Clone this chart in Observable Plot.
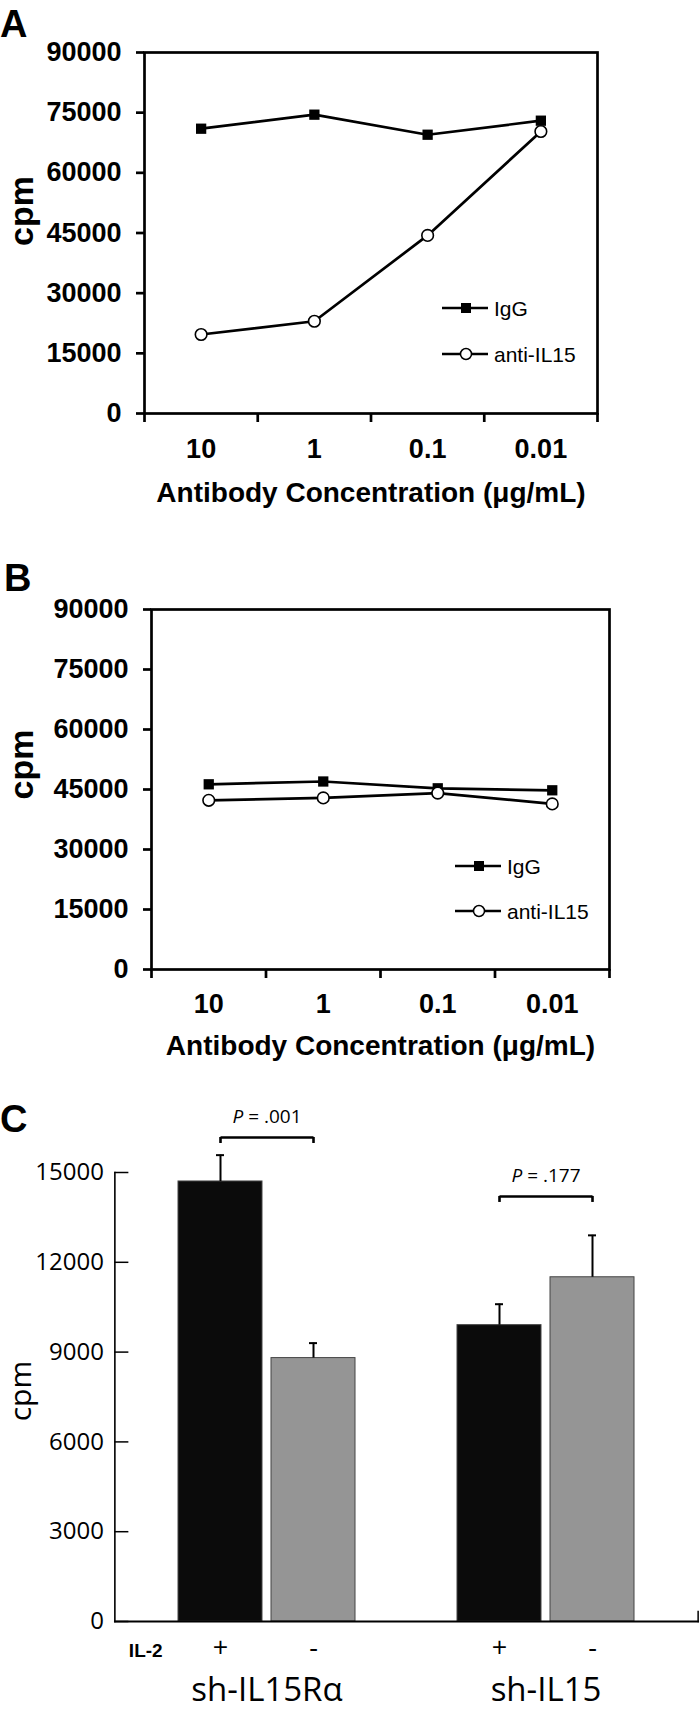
<!DOCTYPE html>
<html><head><meta charset="utf-8">
<script src="https://cdn.jsdelivr.net/npm/d3@7"></script>
<script src="https://cdn.jsdelivr.net/npm/@observablehq/plot@0.6"></script>
<style>
html,body{margin:0;padding:0;background:#fff;}
#page{position:relative;width:700px;height:1711px;overflow:hidden;background:#fff;font-family:'Liberation Sans',Arial,Helvetica,sans-serif;color:#000;}
.panel{position:absolute;left:0;}
.panel svg{display:block;overflow:visible;}
.letter{position:absolute;font-weight:bold;font-size:38px;line-height:1;color:#000;}
.leg{position:absolute;display:flex;align-items:center;height:20px;font-size:21px;line-height:1;color:#000;white-space:nowrap;}
.leg svg{display:block;margin-right:6px;}
</style></head><body><div id="page"></div>
<script>
// ---------- data ----------
const concentrations = ["10", "1", "0.1", "0.01"];
const seriesNames = ["IgG", "anti-IL15"];
const cpmTicksAB = [0, 15000, 30000, 45000, 60000, 75000, 90000];
const panelA_IgG = [71000, 74500, 69500, 73000];
const panelA_anti = [19700, 23000, 44400, 70300];
const panelB_IgG = [46300, 47000, 45300, 44800];
const panelB_anti = [42300, 42900, 44100, 41400];
const xTitle = "Antibody Concentration (μg/mL)";

const groupsC = ["sh-IL15Rα", "sh-IL15"];
const il2Levels = ["+", "-"];
const cpmMeansC = [14700, 8800, 9900, 11500];
const cpmErrorsC = [880, 500, 700, 1400];
const cpmTicksC = [0, 3000, 6000, 9000, 12000, 15000];
const pValuesC = [".001", ".177"];
const bracketCpmC = [16170, 14200];

// ---------- helpers ----------
const page = document.getElementById("page");
function place(node, top) {
  const d = document.createElement("div");
  d.className = "panel"; d.style.top = top + "px";
  d.appendChild(node); page.appendChild(d);
}
function letter(txt, left, top) {
  const d = document.createElement("div");
  d.className = "letter"; d.textContent = txt;
  d.style.left = left + "px"; d.style.top = top + "px";
  page.appendChild(d);
}
function legendRow(name, left, cy) {
  const d = document.createElement("div");
  d.className = "leg"; d.style.left = left + "px"; d.style.top = (cy - 10) + "px";
  const ns = "http://www.w3.org/2000/svg";
  const s = document.createElementNS(ns, "svg");
  s.setAttribute("width", 46); s.setAttribute("height", 20);
  const l = document.createElementNS(ns, "line");
  l.setAttribute("x1", 0); l.setAttribute("x2", 46); l.setAttribute("y1", 10); l.setAttribute("y2", 10);
  l.setAttribute("stroke", "#000"); l.setAttribute("stroke-width", 2.6);
  s.appendChild(l);
  if (name === seriesNames[0]) {
    const r = document.createElementNS(ns, "rect");
    r.setAttribute("x", 19); r.setAttribute("y", 5); r.setAttribute("width", 10); r.setAttribute("height", 10);
    r.setAttribute("fill", "#000"); s.appendChild(r);
  } else {
    const c = document.createElementNS(ns, "circle");
    c.setAttribute("cx", 24); c.setAttribute("cy", 10); c.setAttribute("r", 5.5);
    c.setAttribute("fill", "#fff"); c.setAttribute("stroke", "#000"); c.setAttribute("stroke-width", 1.5);
    s.appendChild(c);
  }
  d.appendChild(s);
  const t = document.createElement("span"); t.textContent = name; d.appendChild(t);
  page.appendChild(d);
}

function lineRows(igg, anti) {
  return concentrations.flatMap((conc, i) => [
    {conc, slot: i + 0.5, series: seriesNames[0], cpm: igg[i]},
    {conc, slot: i + 0.5, series: seriesNames[1], cpm: anti[i]}
  ]);
}

function linePanel(rows, m) {
  const n = concentrations.length;
  return Plot.plot({
    width: 700, height: m.height,
    marginTop: m.top, marginBottom: m.bottom, marginLeft: m.left, marginRight: m.right,
    style: {fontFamily: "'Liberation Sans', Arial, Helvetica, sans-serif", fontSize: "27px", fontWeight: "bold", color: "#000", background: "#fff", overflow: "visible"},
    x: {type: "linear", domain: [0, n], axis: null},
    y: {domain: [0, 90000], axis: null},
    marks: [
      Plot.frame({stroke: "#000", strokeWidth: 2.7}),
      Plot.axisY({ticks: cpmTicksAB, tickSize: 8, tickPadding: 15, strokeWidth: 2.7, tickFormat: d3.format("d"), fontSize: 27, fontWeight: "bold", label: null}),
      Plot.axisX({ticks: d3.range(n + 1), tickSize: 9, strokeWidth: 2.7, tickFormat: () => "", label: null}),
      Plot.axisX({ticks: concentrations.map((c, i) => i + 0.5), tickSize: 0, tickPadding: m.tickPad, tickFormat: v => concentrations[Math.floor(v)], fontSize: 27, fontWeight: "bold", label: null}),
      Plot.line(rows, {x: "slot", y: "cpm", z: "series", stroke: "#000", strokeWidth: 2.7}),
      Plot.dot(rows.filter(d => d.series === seriesNames[0]), {x: "slot", y: "cpm", symbol: "square", r: 5.8, fill: "#000", stroke: "none"}),
      Plot.dot(rows.filter(d => d.series === seriesNames[1]), {x: "slot", y: "cpm", r: 5.8, fill: "#fff", stroke: "#000", strokeWidth: 1.6}),
      Plot.text(["cpm"], {text: d => d, frameAnchor: "left", rotate: -90, dx: m.cpmDx, dy: m.cpmDy, textAnchor: "middle", lineAnchor: "middle", fontSize: 34, fontWeight: "bold"}),
      Plot.text([xTitle], {text: d => d, frameAnchor: "bottom", dy: m.titleDy, textAnchor: "middle", lineAnchor: "middle", fontSize: 28, fontWeight: "bold"})
    ]
  });
}

// ---------- panel A ----------
place(linePanel(lineRows(panelA_IgG, panelA_anti),
  {height: 520, top: 52, bottom: 107, left: 144, right: 103, tickPad: 25, cpmDx: -122, cpmDy: -22, titleDy: 80}), 0);
letter("A", 0, 5);
legendRow(seriesNames[0], 442, 308);
legendRow(seriesNames[1], 442, 354);

// ---------- panel B ----------
place(linePanel(lineRows(panelB_IgG, panelB_anti),
  {height: 530, top: 69, bottom: 101, left: 151, right: 91, tickPad: 24, cpmDx: -129, cpmDy: -25, titleDy: 77}), 540);
letter("B", 4, 559);
legendRow(seriesNames[0], 455, 866);
legendRow(seriesNames[1], 455, 911);

// ---------- panel C ----------
const barsC = groupsC.flatMap((group, g) => il2Levels.map((il2, k) => {
  const i = g * il2Levels.length + k;
  return {group, il2, cpm: cpmMeansC[i], top: cpmMeansC[i] + cpmErrorsC[i]};
}));
const compsC = groupsC.map((group, g) => ({group, lo: il2Levels[0], hi: il2Levels[1], bracket: bracketCpmC[g], label: "P = " + pValuesC[g]}));
const legsC = compsC.flatMap(c => il2Levels.map(il2 => ({group: c.group, il2, bracket: c.bracket})));

const C = {width: 700, height: 631, top: 92, bottom: 90, left: 114, right: 3, padIn: 0.367, padOut: 0.228};
// facet-level marks live inside the facets' span; these shifts bring the axis
// line, baseline and labels back out to the plot's own left/right edges
const fxProbe = Plot.scale({x: {type: "band", domain: groupsC, range: [C.left, C.width - C.right], paddingInner: C.padIn, paddingOuter: C.padOut}});
const leftShift = fxProbe.apply(groupsC[0]) - C.left;
const rightShift = (C.width - C.right) - (fxProbe.apply(groupsC[groupsC.length - 1]) + fxProbe.bandwidth);

const plotC = Plot.plot({
  width: C.width, height: C.height, marginTop: C.top, marginBottom: C.bottom, marginLeft: C.left, marginRight: C.right,
  style: {fontFamily: "'Open Sans', 'Noto Sans', sans-serif", fontSize: "24px", color: "#000", background: "#fff", overflow: "visible"},
  fx: {domain: groupsC, paddingInner: C.padIn, paddingOuter: C.padOut, label: null},
  x: {domain: il2Levels, paddingInner: 0.1, paddingOuter: 0, label: null},
  y: {domain: [0, 15000], label: null},
  color: {domain: il2Levels, range: ["#0b0b0b", "#959595"]},
  marks: [
    Plot.barY(barsC, {fx: "group", x: "il2", y: "cpm", fill: "il2", stroke: "#444", strokeWidth: 1}),
    Plot.ruleX(barsC, {fx: "group", x: "il2", y1: "cpm", y2: "top", stroke: "#000", strokeWidth: 2}),
    Plot.tickY(barsC, {fx: "group", x: "il2", y: "top", insetLeft: 38, insetRight: 38, stroke: "#000", strokeWidth: 2}),
    Plot.link(compsC, {fx: "group", x1: "lo", x2: "hi", y1: "bracket", y2: "bracket", stroke: "#000", strokeWidth: 2.6}),
    Plot.ruleX(legsC, {fx: "group", x: "il2", y1: "bracket", y2: "bracket", insetBottom: -6, stroke: "#000", strokeWidth: 2.6}),
    Plot.text(compsC, {fx: "group", y: "bracket", dy: -21, text: "label", fontSize: 19, lineAnchor: "middle"}),
    Plot.frame({anchor: "left", facet: "super", dx: -leftShift, stroke: "#000", strokeWidth: 1.6}),
    Plot.frame({anchor: "bottom", facet: "super", insetLeft: -leftShift, insetRight: -rightShift, stroke: "#000", strokeWidth: 1.8}),
    Plot.frame({anchor: "right", facet: "super", dx: rightShift, insetTop: C.height - C.top - C.bottom - 10, stroke: "#000", strokeWidth: 1.5}),
    Plot.axisY({ticks: cpmTicksC, tickSize: -14, tickPadding: 25, tickFormat: d3.format("d"), fontSize: 24, label: null, dx: -leftShift, strokeWidth: 1.5}),
    Plot.axisX({tickSize: 0, tickPadding: 16, fontSize: 27, label: null}),
    Plot.axisFx({anchor: "bottom", tickSize: 0, tickPadding: 56, fontSize: 33, label: null}),
    Plot.text(["IL-2"], {text: d => d, facet: "super", frameAnchor: "bottom-left", dx: 14 - leftShift, dy: 29, textAnchor: "start", lineAnchor: "middle", fontSize: 19, fontWeight: "bold", fontFamily: "'Liberation Sans', Arial, sans-serif"}),
    Plot.text(["cpm"], {text: d => d, facet: "super", frameAnchor: "left", rotate: -90, dx: -93 - leftShift, dy: -6, textAnchor: "middle", lineAnchor: "middle", fontSize: 30})
  ]
});
// italic P in the significance labels
plotC.querySelectorAll("text").forEach(t => {
  if (t.children.length === 0 && t.textContent.startsWith("P = ")) {
    const rest = t.textContent.slice(1);
    t.textContent = "";
    const ns = "http://www.w3.org/2000/svg";
    const a = document.createElementNS(ns, "tspan"); a.setAttribute("font-style", "italic"); a.textContent = "P";
    const b = document.createElementNS(ns, "tspan"); b.textContent = rest;
    t.appendChild(a); t.appendChild(b);
  }
});
place(plotC, 1080);
letter("C", 0, 1100);
</script></body></html>
